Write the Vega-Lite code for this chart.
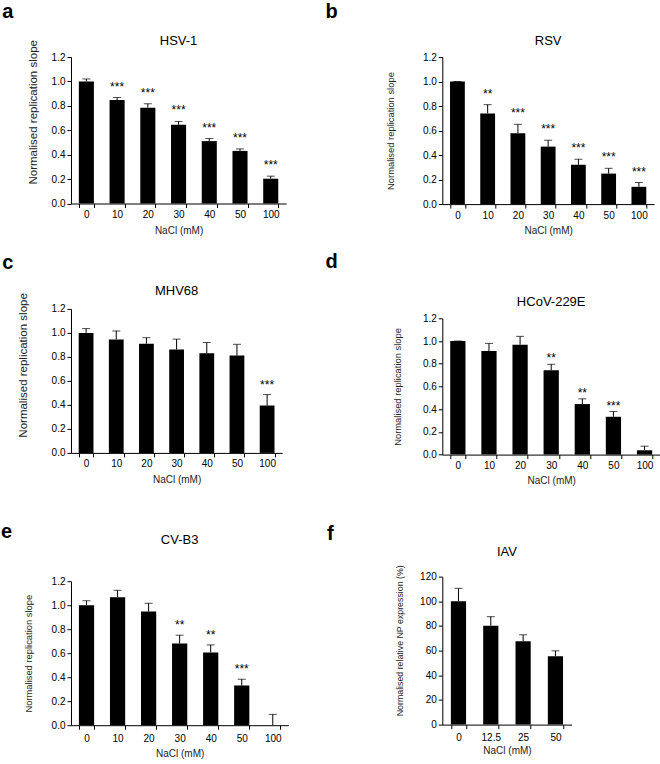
{
  "$schema": "https://vega.github.io/schema/vega-lite/v6.json",
  "background": "white",
  "padding": {"left": 1, "top": 1, "right": 0, "bottom": 0},
  "datasets": {
    "a": [
      {"nacl": "0", "value": 1.0, "upper": 1.02, "sig": ""},
      {"nacl": "10", "value": 0.848, "upper": 0.868, "sig": "***"},
      {"nacl": "20", "value": 0.785, "upper": 0.817, "sig": "***"},
      {"nacl": "30", "value": 0.645, "upper": 0.672, "sig": "***"},
      {"nacl": "40", "value": 0.511, "upper": 0.532, "sig": "***"},
      {"nacl": "50", "value": 0.431, "upper": 0.447, "sig": "***"},
      {"nacl": "100", "value": 0.203, "upper": 0.224, "sig": "***"}
    ],
    "b": [
      {"nacl": "0", "value": 1.0, "upper": 1.0, "sig": ""},
      {"nacl": "10", "value": 0.74, "upper": 0.811, "sig": "**"},
      {"nacl": "20", "value": 0.578, "upper": 0.651, "sig": "***"},
      {"nacl": "30", "value": 0.469, "upper": 0.521, "sig": "***"},
      {"nacl": "40", "value": 0.321, "upper": 0.366, "sig": "***"},
      {"nacl": "50", "value": 0.249, "upper": 0.292, "sig": "***"},
      {"nacl": "100", "value": 0.141, "upper": 0.176, "sig": "***"}
    ],
    "c": [
      {"nacl": "0", "value": 1.0, "upper": 1.036, "sig": ""},
      {"nacl": "10", "value": 0.946, "upper": 1.016, "sig": ""},
      {"nacl": "20", "value": 0.91, "upper": 0.96, "sig": ""},
      {"nacl": "30", "value": 0.862, "upper": 0.948, "sig": ""},
      {"nacl": "40", "value": 0.83, "upper": 0.92, "sig": ""},
      {"nacl": "50", "value": 0.811, "upper": 0.905, "sig": ""},
      {"nacl": "100", "value": 0.395, "upper": 0.486, "sig": "***"}
    ],
    "d": [
      {"nacl": "0", "value": 1.0, "upper": 1.0, "sig": ""},
      {"nacl": "10", "value": 0.912, "upper": 0.979, "sig": ""},
      {"nacl": "20", "value": 0.968, "upper": 1.041, "sig": ""},
      {"nacl": "30", "value": 0.742, "upper": 0.795, "sig": "**"},
      {"nacl": "40", "value": 0.445, "upper": 0.491, "sig": "**"},
      {"nacl": "50", "value": 0.333, "upper": 0.379, "sig": "***"},
      {"nacl": "100", "value": 0.038, "upper": 0.074, "sig": ""}
    ],
    "e": [
      {"nacl": "0", "value": 1.0, "upper": 1.038, "sig": ""},
      {"nacl": "10", "value": 1.066, "upper": 1.124, "sig": ""},
      {"nacl": "20", "value": 0.948, "upper": 1.016, "sig": ""},
      {"nacl": "30", "value": 0.68, "upper": 0.75, "sig": "**"},
      {"nacl": "40", "value": 0.606, "upper": 0.669, "sig": "**"},
      {"nacl": "50", "value": 0.331, "upper": 0.383, "sig": "***"},
      {"nacl": "100", "value": 0.0, "upper": 0.09, "sig": ""}
    ],
    "f": [
      {"nacl": "0", "value": 100, "upper": 110.5, "sig": ""},
      {"nacl": "12.5", "value": 80.2, "upper": 87.5, "sig": ""},
      {"nacl": "25", "value": 67.6, "upper": 72.8, "sig": ""},
      {"nacl": "50", "value": 55.5, "upper": 59.8, "sig": ""}
    ]
  },
  "spacing": 36.3,
  "hconcat": [
    {
      "spacing": 36.2,
      "vconcat": [
        {
          "spacing": 17.9,
          "vconcat": [
            {
              "title": {"text": "a", "anchor": "start", "frame": "bounds", "fontSize": 20, "fontWeight": "bold", "dx": -25.0, "offset": 13.4},
              "vconcat": [
                {
                  "title": {"text": "HSV-1", "offset": -8.6},
                  "width": 215.1, "height": 146.5,
                  "data": {"name": "a"},
                  "encoding": {"x": {"field": "nacl", "type": "nominal", "sort": null, "title": "NaCl (mM)", "scale": {"paddingInner": 0.51, "paddingOuter": 0.255}, "axis": {"titlePadding": 5.5}}},
                  "layer": [
                    {"mark": {"type": "bar", "color": "black"}, "encoding": {"y": {"field": "value", "type": "quantitative", "title": "Normalised replication slope", "scale": {"domain": [0, 1.2], "nice": false}, "axis": {"values": [0, 0.2, 0.4, 0.6, 0.8, 1.0, 1.2], "tickCount": 7, "format": ".1f", "labelOverlap": false, "titlePadding": 12.97, "titleFontSize": 11.5, "titleY": 54.8}}}},
                    {"mark": {"type": "rule", "color": "black", "strokeWidth": 1}, "encoding": {"y": {"field": "value", "type": "quantitative", "title": "Normalised replication slope"}, "y2": {"field": "upper"}}},
                    {"mark": {"type": "tick", "color": "black", "thickness": 1, "size": 8}, "encoding": {"y": {"field": "upper", "type": "quantitative", "title": "Normalised replication slope"}}},
                    {"mark": {"type": "text", "fontSize": 12, "baseline": "alphabetic", "dy": -7, "color": "black"}, "encoding": {"y": {"field": "upper", "type": "quantitative", "title": "Normalised replication slope"}, "text": {"field": "sig"}}}
                  ]
                }
              ]
            },
            {
              "title": {"text": "c", "anchor": "start", "frame": "bounds", "fontSize": 20, "fontWeight": "bold", "dx": -15.0, "offset": 11.5},
              "vconcat": [
                {
                  "title": {"text": "MHV68", "offset": -5.3},
                  "width": 211.2, "height": 144,
                  "data": {"name": "c"},
                  "encoding": {"x": {"field": "nacl", "type": "nominal", "sort": null, "title": "NaCl (mM)", "scale": {"paddingInner": 0.51, "paddingOuter": 0.255}, "axis": {"titlePadding": 5.7}}},
                  "layer": [
                    {"mark": {"type": "bar", "color": "black"}, "encoding": {"y": {"field": "value", "type": "quantitative", "title": "Normalised replication slope", "scale": {"domain": [0, 1.2], "nice": false}, "axis": {"values": [0, 0.2, 0.4, 0.6, 0.8, 1.0, 1.2], "tickCount": 7, "format": ".1f", "labelOverlap": false, "titlePadding": 22.97, "titleFontSize": 11.5, "titleY": 56}}}},
                    {"mark": {"type": "rule", "color": "black", "strokeWidth": 1}, "encoding": {"y": {"field": "value", "type": "quantitative", "title": "Normalised replication slope"}, "y2": {"field": "upper"}}},
                    {"mark": {"type": "tick", "color": "black", "thickness": 1, "size": 8}, "encoding": {"y": {"field": "upper", "type": "quantitative", "title": "Normalised replication slope"}}},
                    {"mark": {"type": "text", "fontSize": 12, "baseline": "alphabetic", "dy": -6, "color": "black"}, "encoding": {"y": {"field": "upper", "type": "quantitative", "title": "Normalised replication slope"}, "text": {"field": "sig"}}}
                  ]
                }
              ]
            }
          ]
        },
        {
          "title": {"text": "e", "anchor": "start", "frame": "bounds", "fontSize": 20, "fontWeight": "bold", "dx": -22.9, "offset": -8},
          "vconcat": [
            {
              "title": {"text": "CV-B3", "offset": 27.3},
              "width": 217.3, "height": 144,
              "data": {"name": "e"},
              "encoding": {"x": {"field": "nacl", "type": "nominal", "sort": null, "title": "NaCl (mM)", "scale": {"paddingInner": 0.51, "paddingOuter": 0.255}, "axis": {"titlePadding": 5, "labelPadding": 4}}},
              "layer": [
                {"mark": {"type": "bar", "color": "black"}, "encoding": {"y": {"field": "value", "type": "quantitative", "title": "Normalised replication slope", "scale": {"domain": [0, 1.2], "nice": false}, "axis": {"values": [0, 0.2, 0.4, 0.6, 0.8, 1.0, 1.2], "tickCount": 7, "format": ".1f", "labelOverlap": false, "titlePadding": 17.16, "titleFontSize": 9.4}}}},
                {"mark": {"type": "rule", "color": "black", "strokeWidth": 1}, "encoding": {"y": {"field": "value", "type": "quantitative", "title": "Normalised replication slope"}, "y2": {"field": "upper"}}},
                {"mark": {"type": "tick", "color": "black", "thickness": 1, "size": 8}, "encoding": {"y": {"field": "upper", "type": "quantitative", "title": "Normalised replication slope"}}},
                {"mark": {"type": "text", "fontSize": 12, "baseline": "alphabetic", "dy": -6, "color": "black"}, "encoding": {"y": {"field": "upper", "type": "quantitative", "title": "Normalised replication slope"}, "text": {"field": "sig"}}}
              ]
            }
          ]
        }
      ]
    },
    {
      "spacing": 37.6,
      "vconcat": [
        {
          "spacing": 16.3,
          "vconcat": [
            {
              "title": {"text": "b", "anchor": "start", "frame": "bounds", "fontSize": 20, "fontWeight": "bold", "dx": -59.9, "offset": 13.4},
              "vconcat": [
                {
                  "title": {"text": "RSV", "offset": 3.8},
                  "width": 211.7, "height": 147.1,
                  "data": {"name": "b"},
                  "encoding": {"x": {"field": "nacl", "type": "nominal", "sort": null, "title": "NaCl (mM)", "scale": {"paddingInner": 0.51, "paddingOuter": 0.255}, "axis": {"titlePadding": 5.4}}},
                  "layer": [
                    {"mark": {"type": "bar", "color": "black"}, "encoding": {"y": {"field": "value", "type": "quantitative", "title": "Normalised replication slope", "scale": {"domain": [0, 1.2], "nice": false}, "axis": {"values": [0, 0.2, 0.4, 0.6, 0.8, 1.0, 1.2], "tickCount": 7, "format": ".1f", "labelOverlap": false, "titlePadding": 26.96, "titleFontSize": 9.4}}}},
                    {"mark": {"type": "rule", "color": "black", "strokeWidth": 1}, "encoding": {"y": {"field": "value", "type": "quantitative", "title": "Normalised replication slope"}, "y2": {"field": "upper"}}},
                    {"mark": {"type": "tick", "color": "black", "thickness": 1, "size": 8}, "encoding": {"y": {"field": "upper", "type": "quantitative", "title": "Normalised replication slope"}}},
                    {"mark": {"type": "text", "fontSize": 12, "baseline": "alphabetic", "dy": -7, "color": "black"}, "encoding": {"y": {"field": "upper", "type": "quantitative", "title": "Normalised replication slope"}, "text": {"field": "sig"}}}
                  ]
                }
              ]
            },
            {
              "title": {"text": "d", "anchor": "start", "frame": "bounds", "fontSize": 20, "fontWeight": "bold", "dx": -66.9, "offset": 24.1},
              "vconcat": [
                {
                  "title": {"text": "HCoV-229E", "offset": 3.9},
                  "width": 217.8, "height": 136.3,
                  "data": {"name": "d"},
                  "encoding": {"x": {"field": "nacl", "type": "nominal", "sort": null, "title": "NaCl (mM)", "scale": {"paddingInner": 0.51, "paddingOuter": 0.255}, "axis": {"titlePadding": 5.4}}},
                  "layer": [
                    {"mark": {"type": "bar", "color": "black"}, "encoding": {"y": {"field": "value", "type": "quantitative", "title": "Normalised replication slope", "scale": {"domain": [0, 1.2], "nice": false}, "axis": {"values": [0, 0.2, 0.4, 0.6, 0.8, 1.0, 1.2], "tickCount": 7, "format": ".1f", "labelOverlap": false, "titlePadding": 19.96, "titleFontSize": 9.4}}}},
                    {"mark": {"type": "rule", "color": "black", "strokeWidth": 1}, "encoding": {"y": {"field": "value", "type": "quantitative", "title": "Normalised replication slope"}, "y2": {"field": "upper"}}},
                    {"mark": {"type": "tick", "color": "black", "thickness": 1, "size": 8}, "encoding": {"y": {"field": "upper", "type": "quantitative", "title": "Normalised replication slope"}}},
                    {"mark": {"type": "text", "fontSize": 12, "baseline": "alphabetic", "dy": -2, "color": "black"}, "encoding": {"y": {"field": "upper", "type": "quantitative", "title": "Normalised replication slope"}, "text": {"field": "sig"}}}
                  ]
                }
              ]
            }
          ]
        },
        {
          "title": {"text": "f", "anchor": "start", "frame": "bounds", "fontSize": 20, "fontWeight": "bold", "dx": -68.2, "offset": 2.2},
          "vconcat": [
            {
              "title": {"text": "IAV", "offset": 4.2},
              "width": 129.3, "height": 148,
              "data": {"name": "f"},
              "encoding": {"x": {"field": "nacl", "type": "nominal", "sort": null, "title": "NaCl (mM)", "scale": {"paddingInner": 0.53, "paddingOuter": 0.265}, "axis": {"titlePadding": 3, "labelPadding": 4}}},
              "layer": [
                {"mark": {"type": "bar", "color": "black"}, "encoding": {"y": {"field": "value", "type": "quantitative", "title": "Normalised relative  NP expression (%)", "scale": {"domain": [0, 120], "nice": false}, "axis": {"values": [0, 20, 40, 60, 80, 100, 120], "tickCount": 7, "labelOverlap": false, "titlePadding": 15.5, "titleFontSize": 8.8, "titleY": 63.7}}}},
                {"mark": {"type": "rule", "color": "black", "strokeWidth": 1}, "encoding": {"y": {"field": "value", "type": "quantitative", "title": "Normalised relative  NP expression (%)"}, "y2": {"field": "upper"}}},
                {"mark": {"type": "tick", "color": "black", "thickness": 1, "size": 8}, "encoding": {"y": {"field": "upper", "type": "quantitative", "title": "Normalised relative  NP expression (%)"}}}
              ]
            }
          ]
        }
      ]
    }
  ],
  "config": {
    "font": "Liberation Sans",
    "view": {"stroke": null},
    "title": {"font": "Liberation Sans", "fontSize": 13, "fontWeight": "normal", "color": "black"},
    "axis": {"grid": false, "domainColor": "black", "tickColor": "black", "labelColor": "black", "titleColor": "#222", "labelFontSize": 10, "titleFontSize": 10, "titleFontWeight": "normal", "labelFont": "Liberation Sans", "titleFont": "Liberation Sans", "tickSize": 4, "labelPadding": 2, "domainWidth": 1, "tickWidth": 1, "labelOverlap": false},
    "axisX": {"labelAngle": 0, "tickBand": "extent"},
    "text": {"font": "Liberation Sans"}
  }
}
